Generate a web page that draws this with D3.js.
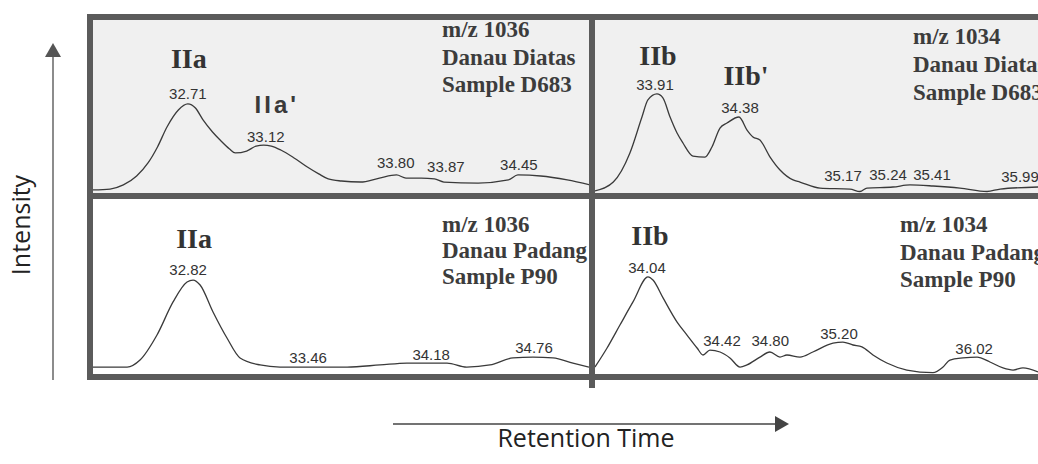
<!DOCTYPE html>
<html>
<head>
<meta charset="utf-8">
<script src="https://cdn.jsdelivr.net/npm/d3@7"></script>
<style>
body { margin: 0; background: #fff; }
</style>
</head>
<body>
<script>
var width = 1038
var height = 464

// chromatogram traces: [retention time (min), relative intensity]
var traceTL = [[32.21,1.2],[32.30,1.7],[32.37,4.1],[32.44,9.3],[32.50,16.9],[32.55,26.2],[32.60,37.8],[32.66,47.7],
	[32.71,51.2],[32.75,48.8],[32.79,41.9],[32.84,34.9],[32.88,30.2],[32.93,25.0],[32.96,22.7],[33.02,23.8],
	[33.07,26.7],[33.11,27.3],[33.15,26.7],[33.20,24.4],[33.27,19.8],[33.34,14.5],[33.40,10.5],[33.45,7.6],
	[33.52,6.4],[33.62,5.8],[33.72,8.1],[33.81,9.9],[33.86,8.1],[33.94,8.1],[34.01,7.6],[34.06,5.8],
	[34.24,5.2],[34.40,7.0],[34.45,9.9],[34.57,9.3],[34.71,7.0],[34.83,4.1]]

var traceTR = [[33.555,0.6],[33.66,5.8],[33.755,22.7],[33.824,43.6],[33.858,53.5],[33.91,57.0],[33.944,54.7],
	[33.985,43.6],[34.025,34.3],[34.059,28.5],[34.116,20.9],[34.185,20.3],[34.225,26.2],[34.271,37.2],
	[34.311,40.1],[34.38,43.6],[34.426,36.0],[34.46,32.0],[34.5,30.2],[34.558,20.3],[34.615,12.8],[34.69,7.0],
	[34.729,5.8],[34.844,2.3],[35.016,1.7],[35.073,0.3],[35.113,2.3],[35.262,2.9],[35.36,4.1],[35.492,3.5],
	[35.646,2.3],[35.801,0.3],[35.876,1.7],[36.093,2.9]]

var traceBL = [[32.271,3.4],[32.464,3.4],[32.537,7.4],[32.633,21.7],[32.724,40.6],[32.803,52.0],[32.837,53.1],
	[32.877,50.3],[32.95,34.9],[33.029,20.0],[33.103,8.6],[33.216,4.6],[33.329,3.4],[33.708,3.4],[33.895,4.6],
	[34.047,5.7],[34.274,5.7],[34.385,3.4],[34.517,4.6],[34.647,8.6],[34.76,9.1],[34.873,8.6],[34.986,5.7],
	[35.077,3.4]]

var traceBR = [[33.719,3.4],[33.792,14.3],[33.87,27.4],[33.949,40.6],[34.04,54.9],[34.07,53.1],[34.131,42.9],
	[34.216,29.1],[34.276,21.7],[34.337,14.3],[34.373,10.3],[34.415,13.1],[34.476,12.0],[34.536,8.6],
	[34.597,3.4],[34.639,4.6],[34.718,9.1],[34.778,12.0],[34.839,9.1],[34.881,10.3],[34.96,9.1],[35.038,12.0],
	[35.16,17.1],[35.22,17.7],[35.281,16.0],[35.335,14.9],[35.402,10.3],[35.486,5.7],[35.607,1.7],[35.765,0.2],
	[35.826,3.4],[35.868,7.4],[35.947,8.6],[36.032,9.1],[36.11,6.3],[36.189,2.9],[36.25,1.7],[36.31,2.9],
	[36.401,0.6]]

// peak retention time labels: [time, intensity, text]
var peaksTL = [[32.71,54.1,"32.71"],[33.121,29.1,"33.12"],[33.806,14.0,"33.80"],[34.07,11.6,"33.87"],[34.455,12.8,"34.45"]]
var peaksTR = [[33.899,59.3,"33.91"],[34.386,45.9,"34.38"],[34.976,6.4,"35.17"],[35.234,7.0,"35.24"],[35.486,7.0,"35.41"],[35.99,5.8,"35.99"]]
var peaksBL = [[32.809,56.0,"32.82"],[33.488,5.7,"33.46"],[34.184,7.4,"34.18"],[34.766,11.4,"34.76"]]
var peaksBR = [[34.034,57.1,"34.04"],[34.488,15.4,"34.42"],[34.78,15.4,"34.80"],[35.196,19.4,"35.20"],[36.014,10.9,"36.02"]]

// compound names: [time, intensity, text]
var namesTL = [[32.715,72.1,"IIa"],[33.179,45.9,"IIa'"]]
var namesTR = [[33.916,73.8,"IIb"],[34.42,62.2,"IIb'"]]
var namesBL = [[32.843,71.4,"IIa"]]
var namesBR = [[34.052,73.1,"IIb"]]

var infoTL = ["m/z 1036", "Danau Diatas", "Sample D683"]
var infoTR = ["m/z 1034", "Danau Diatas", "Sample D683"]
var infoBL = ["m/z 1036", "Danau Padang", "Sample P90"]
var infoBR = ["m/z 1034", "Danau Padang", "Sample P90"]

var yTitle = "Intensity"
var xTitle = "Retention Time"

// panel layout
var panels = [
	{trace: traceTL, peaks: peaksTL, names: namesTL, info: infoTL, dom: [32.21, 34.83], x: [93, 590], y: [192, 20], top: 20, bottom: 193, bg: "#f0f0f0", ix: 442, iy: 37, ig: 27.5},
	{trace: traceTR, peaks: peaksTR, names: namesTR, info: infoTR, dom: [33.555, 36.093], x: [595, 1038], y: [192, 20], top: 20, bottom: 193, bg: "#f0f0f0", ix: 913, iy: 44, ig: 28},
	{trace: traceBL, peaks: peaksBL, names: namesBL, info: infoBL, dom: [32.271, 35.077], x: [93, 589], y: [373, 198], top: 199, bottom: 374, bg: "#ffffff", ix: 442, iy: 232, ig: 26},
	{trace: traceBR, peaks: peaksBR, names: namesBR, info: infoBR, dom: [33.719, 36.401], x: [595, 1038], y: [373, 198], top: 199, bottom: 374, bg: "#ffffff", ix: 900, iy: 232, ig: 27.5}
]

var frameColor = "#5b5b5b"

var svg = d3.select("body")
	.append("svg")
	.attr("width", width)
	.attr("height", height)

svg.append("rect").attr("width", width).attr("height", height).attr("fill", "#fff")

var defs = svg.append("defs")

panels.forEach(function(p, i) {
	var x = d3.scaleLinear().domain(p.dom).range(p.x)
	var y = d3.scaleLinear().domain([0, 100]).range(p.y)

	defs.append("clipPath").attr("id", "clip" + i)
		.append("rect")
		.attr("x", p.x[0]).attr("y", p.top)
		.attr("width", p.x[1] - p.x[0]).attr("height", p.bottom - p.top)

	var g = svg.append("g").attr("clip-path", "url(#clip" + i + ")")

	g.append("rect")
		.attr("x", p.x[0]).attr("y", p.top)
		.attr("width", p.x[1] - p.x[0]).attr("height", p.bottom - p.top)
		.attr("fill", p.bg)

	var line = d3.line()
		.x(function(d) { return x(d[0]) })
		.y(function(d) { return y(d[1]) })
		.curve(d3.curveMonotoneX)

	g.append("path")
		.datum(p.trace)
		.attr("d", line)
		.attr("fill", "none")
		.attr("stroke", "#3a3a3a")
		.attr("stroke-width", 1.3)

	// retention time labels
	g.selectAll(".peak")
		.data(p.peaks)
		.enter()
		.append("text")
		.attr("x", function(d) { return x(d[0]) })
		.attr("y", function(d) { return y(d[1]) })
		.attr("text-anchor", "middle")
		.style("font-family", "'Liberation Sans', Arial, sans-serif")
		.style("font-size", "15px")
		.style("fill", "#333")
		.text(function(d) { return d[2] })

	// compound names
	g.selectAll(".name")
		.data(p.names)
		.enter()
		.append("text")
		.attr("x", function(d) { return x(d[0]) })
		.attr("y", function(d) { return y(d[1]) })
		.attr("text-anchor", "middle")
		.each(function(d) {
			var t = d3.select(this)
			if (d[2] == "IIa'") {
				t.style("font-family", "'Liberation Sans', Arial, sans-serif")
				 .style("font-size", "24px")
				 .style("font-weight", "bold")
				 .style("letter-spacing", "3px")
				 .style("fill", "#3a3a3a")
			} else {
				t.style("font-family", "'Liberation Serif', 'Times New Roman', serif")
				 .style("font-size", "28px")
				 .style("font-weight", "bold")
				 .style("fill", "#333")
			}
		})
		.text(function(d) { return d[2] })

	// sample info block
	g.selectAll(".info")
		.data(p.info)
		.enter()
		.append("text")
		.attr("x", p.ix)
		.attr("y", function(d, j) { return p.iy + j * p.ig })
		.style("font-family", "'Liberation Serif', 'Times New Roman', serif")
		.style("font-size", "23px")
		.style("font-weight", "bold")
		.style("fill", "#3c3c3c")
		.text(function(d) { return d })
})

// frame and dividers
svg.append("rect")
	.attr("x", 90).attr("y", 17)
	.attr("width", width + 20 - 90).attr("height", 360)
	.attr("fill", "none")
	.attr("stroke", frameColor)
	.attr("stroke-width", 6)

svg.append("line")
	.attr("x1", 87).attr("x2", width)
	.attr("y1", 196).attr("y2", 196)
	.attr("stroke", frameColor).attr("stroke-width", 6)

svg.append("line")
	.attr("x1", 592).attr("x2", 592)
	.attr("y1", 14).attr("y2", 388)
	.attr("stroke", frameColor).attr("stroke-width", 6)

// intensity arrow
svg.append("line")
	.attr("x1", 53).attr("x2", 53)
	.attr("y1", 380).attr("y2", 56)
	.attr("stroke", "#666").attr("stroke-width", 1.5)
svg.append("path")
	.attr("d", "M45,57 L61,57 L53,43 Z")
	.attr("fill", "#555")

svg.append("text")
	.attr("transform", "translate(30,225) rotate(-90)")
	.attr("text-anchor", "middle")
	.style("font-family", "'Open Sans', sans-serif")
	.style("font-size", "25px")
	.style("fill", "#222")
	.text(yTitle)

// retention time arrow
svg.append("line")
	.attr("x1", 393).attr("x2", 777)
	.attr("y1", 424).attr("y2", 424)
	.attr("stroke", "#444").attr("stroke-width", 1.5)
svg.append("path")
	.attr("d", "M775,416 L775,432 L789,424 Z")
	.attr("fill", "#444")

svg.append("text")
	.attr("x", 586).attr("y", 447)
	.attr("text-anchor", "middle")
	.style("font-family", "'Open Sans', sans-serif")
	.style("font-size", "25px")
	.style("fill", "#222")
	.text(xTitle)
</script>
</body>
</html>
